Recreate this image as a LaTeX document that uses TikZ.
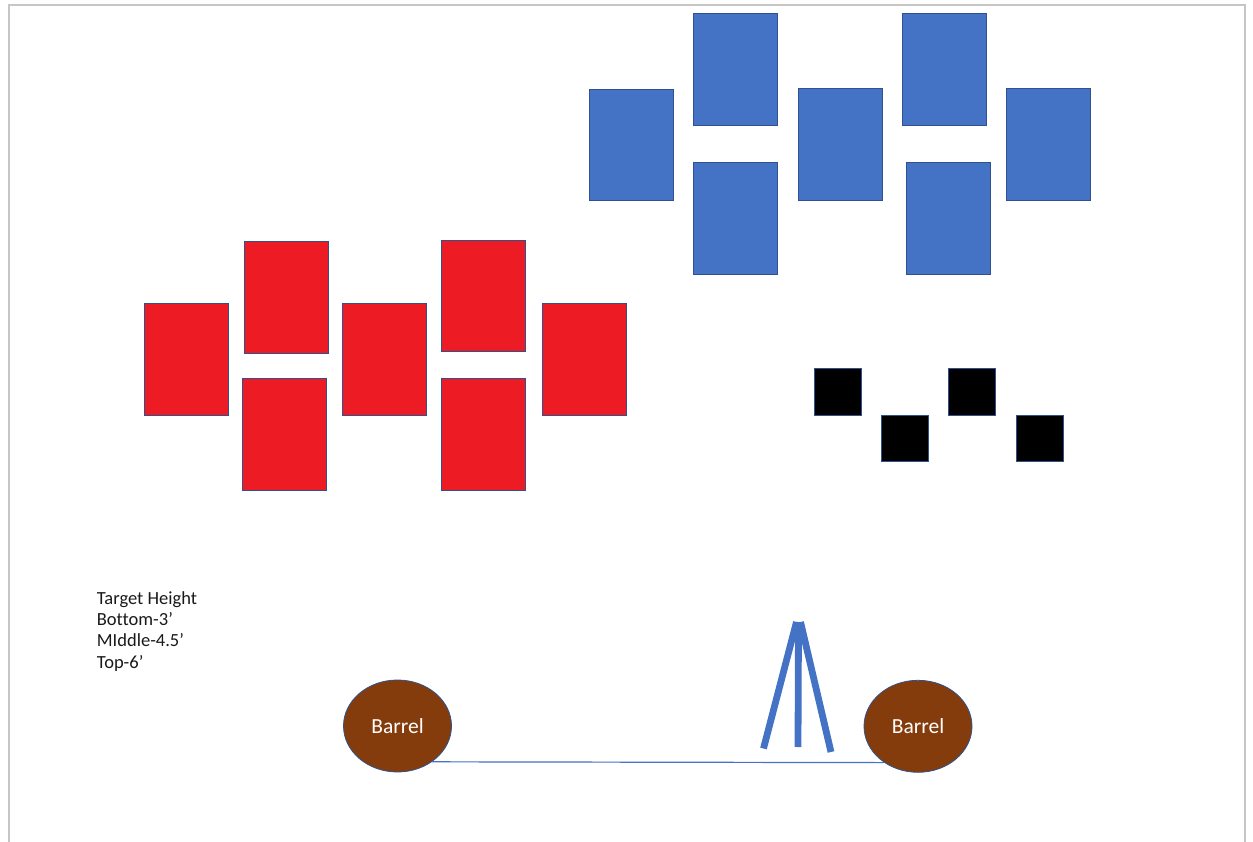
\documentclass[tikz,border=0pt]{standalone}
\usepackage{fontspec}
\setmainfont{Carlito}[Ligatures=NoCommon]
\usepackage{xcolor}
\usepackage{tikz}
\usetikzlibrary{shapes.geometric}
\definecolor{cardblue}{HTML}{4472C4}
\definecolor{edgeblue}{HTML}{2F528F}
\definecolor{cardred}{HTML}{ED1C24}
\definecolor{barrelbrown}{HTML}{843C0C}
\definecolor{framegray}{HTML}{C6C6C6}
\tikzset{
    card/.style={
           rectangle,
           draw=edgeblue, line width=0.8pt,
           minimum width=84pt,
           minimum height=111.5pt,
           inner sep=0pt,
           },
    bluecard/.style={
           card,
           fill=cardblue,
           },
    redcard/.style={
           card,
           fill=cardred,
           },
    blackbox/.style={
           card,
           fill=black,
           minimum width=47pt,
           minimum height=46.5pt,
           },
    barrel/.style={
           ellipse,
           fill=barrelbrown,
           draw=edgeblue, line width=0.8pt,
           minimum width=108pt,
           minimum height=92pt,
           inner sep=0pt,
           text=white,
           font=\fontsize{21.5}{25}\selectfont,
           },
    note/.style={
           inner sep=0pt,
           anchor=north west,
           text=black!90,
           font=\fontsize{18.5}{21.3}\selectfont,
           },
    leg/.style={
           draw=cardblue,
           line width=6.8pt,
           },
}

\begin{document}
\begin{tikzpicture}[x=1pt,y=-1pt]
	\useasboundingbox (0,0) rectangle (1253,842);
	\draw[framegray, line width=2pt] (8.5,842) |- (1244.5,5.5) -- (1244.5,842);

	% blue targets
	\node[bluecard] (blue1) at (631.5,144.7) {};
	\node[bluecard] (blue2) at (735.5,69.2) {};
	\node[bluecard] (blue3) at (735.5,218.3) {};
	\node[bluecard] (blue4) at (840.7,144.5) {};
	\node[bluecard] (blue5) at (944.5,69.2) {};
	\node[bluecard] (blue6) at (948,218.3) {};
	\node[bluecard] (blue7) at (1048.7,144.5) {};

	% red targets
	\node[redcard] (red1) at (186.8,359.5) {};
	\node[redcard] (red2) at (286,297.2) {};
	\node[redcard] (red3) at (284.8,434.5) {};
	\node[redcard] (red4) at (384.3,359.5) {};
	\node[redcard] (red5) at (483.5,296) {};
	\node[redcard] (red6) at (483.5,434.5) {};
	\node[redcard] (red7) at (584.2,359.5) {};

	% black targets
	\node[blackbox] (black1) at (837.7,392) {};
	\node[blackbox] (black2) at (905.3,438.2) {};
	\node[blackbox] (black3) at (972.3,392) {};
	\node[blackbox] (black4) at (1040.3,438.2) {};

	\node[note] (height) at (96.7,589.2) {
		\begin{tabular}{@{}l@{}}
		Target Height\\
		Bottom-3’\\
		MIddle-4.5’\\
		Top-6’
		\end{tabular}
	};

	\node[barrel] (lbarrel) at (397.5,726) {Barrel};
	\node[barrel] (rbarrel) at (918,726.3) {Barrel};
	\path[-, draw=cardblue, line width=1.2pt] (lbarrel.-46.6) edge (rbarrel.-133.4);

	% tripod
	\coordinate (apex) at (798.5,622);
	\coordinate (footl) at (763.5,748.5);
	\coordinate (footm) at (798,747);
	\coordinate (footr) at (831,752);
	\draw[leg] ([xshift=-2pt]apex) -- (footl);
	\draw[leg] (apex) -- (footm);
	\draw[leg] ([xshift=2pt]apex) -- (footr);
\end{tikzpicture}
\end{document}
